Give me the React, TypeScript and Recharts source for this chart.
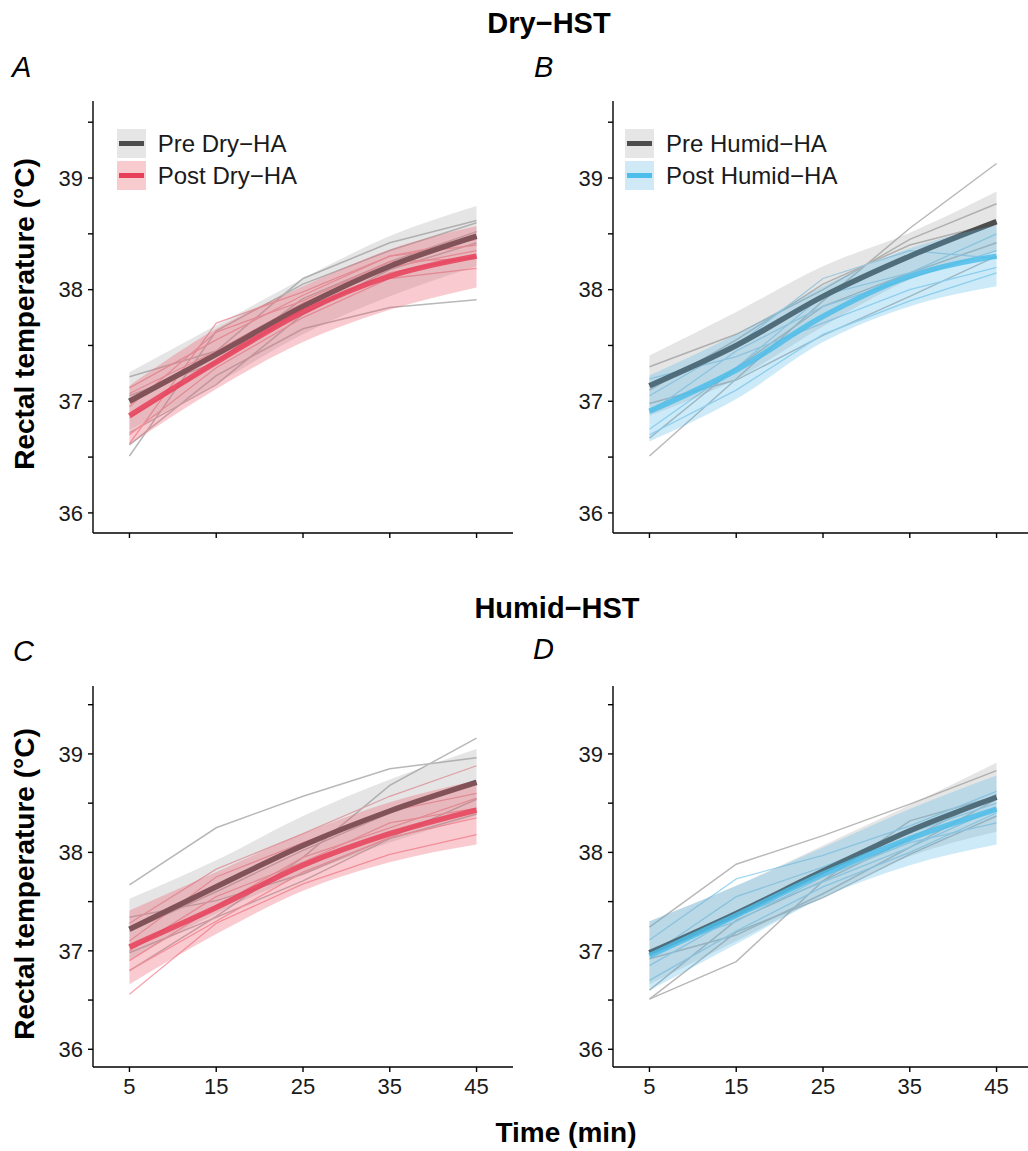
import React from "react";
import { Area, ComposedChart, Legend, Line, XAxis, YAxis } from "recharts";

const FONT = '"Liberation Sans", Arial, Helvetica, sans-serif';

const times = [5, 15, 25, 35, 45];
const xTicks = [5, 15, 25, 35, 45];
const yTicks = [36, 36.5, 37, 37.5, 38, 38.5, 39, 39.5];

// A: Dry-HST, pre vs post Dry-HA
const aPreMean = [37.0, 37.42, 37.85, 38.21, 38.48];
const aPreLo = [36.74, 37.16, 37.6, 37.94, 38.21];
const aPreHi = [37.26, 37.68, 38.1, 38.48, 38.75];
const aPostMean = [36.87, 37.35, 37.8, 38.12, 38.3];
const aPostLo = [36.61, 37.11, 37.53, 37.82, 38.02];
const aPostHi = [37.14, 37.65, 38.03, 38.36, 38.57];
const aPreSubjects = [
  [37.22, 37.45, 38.1, 38.42, 38.62],
  [36.51, 37.63, 38.05, 38.35, 38.6],
  [36.61, 37.23, 37.65, 37.84, 37.91],
  [36.72, 37.15, 37.78, 38.18, 38.42],
  [37.05, 37.35, 37.92, 38.25, 38.52],
];
const aPostSubjects = [
  [36.62, 37.7, 37.98, 38.3, 38.4],
  [37.12, 37.55, 37.95, 38.3, 38.45],
  [37.07, 37.45, 37.88, 38.2, 38.35],
  [36.7, 37.3, 37.75, 38.1, 38.19],
  [36.85, 37.35, 37.82, 38.15, 38.3],
  [36.95, 37.62, 37.9, 38.25, 38.28],
];

// B: Dry-HST, pre vs post Humid-HA
const bPreMean = [37.14, 37.5, 37.94, 38.3, 38.61];
const bPreLo = [36.87, 37.2, 37.67, 38.09, 38.34];
const bPreHi = [37.41, 37.8, 38.21, 38.51, 38.88];
const bPostMean = [36.91, 37.28, 37.76, 38.12, 38.3];
const bPostLo = [36.64, 37.02, 37.53, 37.85, 38.03];
const bPostHi = [37.23, 37.6, 38.03, 38.37, 38.58];
const bPreSubjects = [
  [36.51, 37.2, 37.9, 38.55, 39.13],
  [37.31, 37.6, 38.0, 38.45, 38.77],
  [36.67, 37.3, 37.85, 38.15, 38.42],
  [36.98, 37.19, 37.59, 37.94, 38.3],
  [37.1, 37.55, 38.05, 38.4, 38.6],
];
const bPostSubjects = [
  [36.75, 37.3, 37.95, 38.15, 38.5],
  [36.9, 37.45, 37.85, 38.1, 38.35],
  [37.2, 37.4, 37.7, 38.0, 38.2],
  [36.7, 37.1, 37.6, 37.9, 38.15],
  [37.05, 37.5, 38.1, 38.35, 38.28],
];

// C: Humid-HST, pre vs post Dry-HA
const cPreMean = [37.22, 37.65, 38.07, 38.42, 38.71];
const cPreLo = [36.91, 37.38, 37.77, 38.1, 38.37];
const cPreHi = [37.53, 37.92, 38.37, 38.74, 39.05];
const cPostMean = [37.04, 37.44, 37.87, 38.19, 38.43];
const cPostLo = [36.66, 37.17, 37.61, 37.9, 38.08];
const cPostHi = [37.41, 37.8, 38.19, 38.51, 38.73];
const cPreSubjects = [
  [37.67, 38.25, 38.57, 38.85, 38.96],
  [36.8, 37.35, 37.95, 38.68, 39.16],
  [37.34, 37.51, 37.78, 38.15, 38.54],
  [36.98, 37.34, 37.71, 38.14, 38.39],
  [37.2, 37.6, 38.02, 38.4, 38.7],
];
const cPostSubjects = [
  [36.56, 37.28, 37.68, 37.98, 38.18],
  [37.28, 37.83, 38.19, 38.57, 38.88],
  [37.1, 37.75, 38.1, 38.42, 38.6],
  [36.9, 37.45, 37.95, 38.25, 38.55],
  [37.0, 37.55, 37.9, 38.3, 38.45],
  [36.8, 37.3, 37.8, 38.15, 38.35],
];

// D: Humid-HST, pre vs post Humid-HA
const dPreMean = [36.98, 37.38, 37.81, 38.22, 38.56];
const dPreLo = [36.66, 37.1, 37.55, 37.96, 38.21];
const dPreHi = [37.3, 37.66, 38.07, 38.48, 38.91];
const dPostMean = [36.95, 37.36, 37.78, 38.14, 38.44];
const dPostLo = [36.6, 37.07, 37.54, 37.87, 38.08];
const dPostHi = [37.3, 37.66, 38.05, 38.44, 38.78];
const dPreSubjects = [
  [37.24, 37.88, 38.17, 38.49, 38.83],
  [36.51, 36.89, 37.71, 38.14, 38.59],
  [36.51, 37.19, 37.54, 37.98, 38.37],
  [36.6, 37.31, 37.71, 38.32, 38.57],
  [36.92, 37.16, 37.58, 38.05, 38.54],
];
const dPostSubjects = [
  [37.11, 37.73, 37.97, 38.27, 38.62],
  [36.95, 37.55, 37.85, 38.2, 38.5],
  [36.85, 37.35, 37.7, 38.05, 38.45],
  [37.0, 37.3, 37.75, 38.1, 38.3],
  [36.7, 37.2, 37.65, 38.0, 38.4],
];

const dry = { line: "#e8405a", band: "#ec6070", bandOpacity: 0.33, subj: "#f5a3ad", key: "#f8cbcf" };
const humid = { line: "#4dbde9", band: "#5ab8e8", bandOpacity: 0.3, subj: "#a3d8f1", key: "#d0e9f7" };

function buildRows(preMean, preLo, preHi, postMean, postLo, postHi, preSubj, postSubj) {
  return times.map((t, i) => {
    const row: any = {
      t,
      preMean: preMean[i],
      preBand: [preLo[i], preHi[i]],
      postMean: postMean[i],
      postBand: [postLo[i], postHi[i]],
    };
    preSubj.forEach((s, j) => (row[`pre${j}`] = s[i]));
    postSubj.forEach((s, j) => (row[`post${j}`] = s[i]));
    return row;
  });
}

function LegendBox({ items }) {
  return (
    <div style={{ fontFamily: FONT, fontSize: 24, color: "#1a1a1a" }}>
      {items.map((it) => (
        <div key={it.label} style={{ display: "flex", alignItems: "center", height: 32 }}>
          <svg width={29} height={29} style={{ display: "block" }}>
            <rect width={29} height={29} fill={it.band} />
            <line x1={2} x2={27} y1={14.5} y2={14.5} stroke={it.line} strokeWidth={5} />
          </svg>
          <span style={{ marginLeft: 12, lineHeight: "29px", whiteSpace: "nowrap" }}>{it.label}</span>
        </div>
      ))}
    </div>
  );
}

const tickStyle = { fill: "#1a1a1a", fontSize: 22, fontFamily: FONT };

// axes: visible on the base layer, invisible (but space-reserving) on the overlays
function axes(visible, showX) {
  const line = visible ? { stroke: "#000", strokeWidth: 1.4 } : false;
  return [
    <XAxis
      key="x"
      dataKey="t"
      type="number"
      domain={[0.8, 49.2]}
      ticks={xTicks}
      interval={0}
      allowDataOverflow
      height={40}
      axisLine={line}
      tickLine={line}
      tickSize={5}
      tickMargin={6}
      tick={visible ? tickStyle : false}
      tickFormatter={(v) => (showX ? String(v) : "")}
    />,
    <YAxis
      key="y"
      type="number"
      domain={[35.82, 39.69]}
      ticks={yTicks}
      interval={0}
      allowDataOverflow
      width={90}
      axisLine={line}
      tickLine={line}
      tickSize={5}
      tickMargin={5}
      tick={visible ? tickStyle : false}
      tickFormatter={(v) => (Number.isInteger(v) ? String(v) : "")}
    />,
  ];
}

function Panel({ rows, nPre, nPost, left, top, plotH, showX, pal, legend }) {
  const height = 5 + plotH + 40;
  const margin = { top: 5, right: 0, bottom: 0, left: 0 };
  const layer = { position: "absolute", left: 0, top: 0 } as const;
  return (
    <div style={{ position: "absolute", left, top, width: 510, height }}>
      {/* individual participants */}
      <div style={layer}>
        <ComposedChart width={510} height={height} data={rows} margin={margin}>
          {axes(true, showX)}
          {Array.from({ length: nPre }, (_, j) => (
            <Line key={`pre${j}`} dataKey={`pre${j}`} type="linear" stroke="#b8b8b8" strokeWidth={1.5}
              dot={false} activeDot={false} isAnimationActive={false} />
          ))}
          {Array.from({ length: nPost }, (_, j) => (
            <Line key={`post${j}`} dataKey={`post${j}`} type="linear" stroke={pal.subj} strokeWidth={1.3}
              dot={false} activeDot={false} isAnimationActive={false} />
          ))}
        </ComposedChart>
      </div>
      {/* pre fit */}
      <div style={layer}>
        <ComposedChart width={510} height={height} data={rows} margin={margin}>
          {axes(false, showX)}
          <Area dataKey="preBand" type="monotone" fill="#999999" fillOpacity={0.25} stroke="none"
            dot={false} activeDot={false} isAnimationActive={false} />
          <Line dataKey="preMean" type="monotone" stroke="#4d4d4d" strokeWidth={5.5}
            dot={false} activeDot={false} isAnimationActive={false} />
        </ComposedChart>
      </div>
      {/* post fit */}
      <div style={layer}>
        <ComposedChart width={510} height={height} data={rows} margin={margin}>
          {axes(false, showX)}
          <Area dataKey="postBand" type="monotone" fill={pal.band} fillOpacity={pal.bandOpacity} stroke="none"
            dot={false} activeDot={false} isAnimationActive={false} />
          <Line dataKey="postMean" type="monotone" stroke={pal.line} strokeOpacity={0.85} strokeWidth={5.5}
            dot={false} activeDot={false} isAnimationActive={false} />
          {legend && (
            <Legend
              layout="vertical"
              align="center"
              verticalAlign="middle"
              wrapperStyle={{ left: legend.x, top: legend.y, width: "auto", height: "auto" }}
              content={() => <LegendBox items={legend.items} />}
            />
          )}
        </ComposedChart>
      </div>
    </div>
  );
}

export default function App() {
  const rowsA = buildRows(aPreMean, aPreLo, aPreHi, aPostMean, aPostLo, aPostHi, aPreSubjects, aPostSubjects);
  const rowsB = buildRows(bPreMean, bPreLo, bPreHi, bPostMean, bPostLo, bPostHi, bPreSubjects, bPostSubjects);
  const rowsC = buildRows(cPreMean, cPreLo, cPreHi, cPostMean, cPostLo, cPostHi, cPreSubjects, cPostSubjects);
  const rowsD = buildRows(dPreMean, dPreLo, dPreHi, dPostMean, dPostLo, dPostHi, dPreSubjects, dPostSubjects);

  const legendA = {
    x: 113.7,
    y: 31.5,
    items: [
      { label: "Pre Dry\u2212HA", line: "#4d4d4d", band: "#e6e6e6" },
      { label: "Post Dry\u2212HA", line: dry.line, band: dry.key },
    ],
  };
  const legendB = {
    x: 102,
    y: 31.5,
    items: [
      { label: "Pre Humid\u2212HA", line: "#4d4d4d", band: "#e6e6e6" },
      { label: "Post Humid\u2212HA", line: humid.line, band: humid.key },
    ],
  };

  const txt = { fontFamily: FONT, fill: "#000" };

  return (
    <div style={{ position: "absolute", left: 0, top: 0, width: 1028, height: 1151, overflow: "hidden", background: "#fff" }}>
      <Panel rows={rowsA} nPre={5} nPost={6} left={3} top={96} plotH={432} showX={false} pal={dry} legend={legendA} />
      <Panel rows={rowsB} nPre={5} nPost={5} left={523} top={96} plotH={432} showX={false} pal={humid} legend={legendB} />
      <Panel rows={rowsC} nPre={5} nPost={6} left={3} top={681} plotH={381} showX={true} pal={dry} legend={null} />
      <Panel rows={rowsD} nPre={5} nPost={5} left={523} top={681} plotH={381} showX={true} pal={humid} legend={null} />

      <svg width={1028} height={1151} style={{ position: "absolute", left: 0, top: 0, pointerEvents: "none" }}>
        <text x={549} y={33} textAnchor="middle" fontSize={29} fontWeight="bold" {...txt}>Dry{"\u2212"}HST</text>
        <text x={557} y={618} textAnchor="middle" fontSize={29} fontWeight="bold" {...txt}>Humid{"\u2212"}HST</text>
        <text x={12} y={77} fontSize={29} fontStyle="italic" {...txt}>A</text>
        <text x={534} y={77} fontSize={29} fontStyle="italic" {...txt}>B</text>
        <text x={13} y={661} fontSize={29} fontStyle="italic" {...txt}>C</text>
        <text x={533} y={659} fontSize={29} fontStyle="italic" {...txt}>D</text>
        <text transform="translate(34,314) rotate(-90)" textAnchor="middle" fontSize={28} fontWeight="bold" {...txt}>
          Rectal temperature (°C)
        </text>
        <text transform="translate(34,884) rotate(-90)" textAnchor="middle" fontSize={28} fontWeight="bold" {...txt}>
          Rectal temperature (°C)
        </text>
        <text x={566} y={1142} textAnchor="middle" fontSize={28} fontWeight="bold" {...txt}>Time (min)</text>
      </svg>
    </div>
  );
}
